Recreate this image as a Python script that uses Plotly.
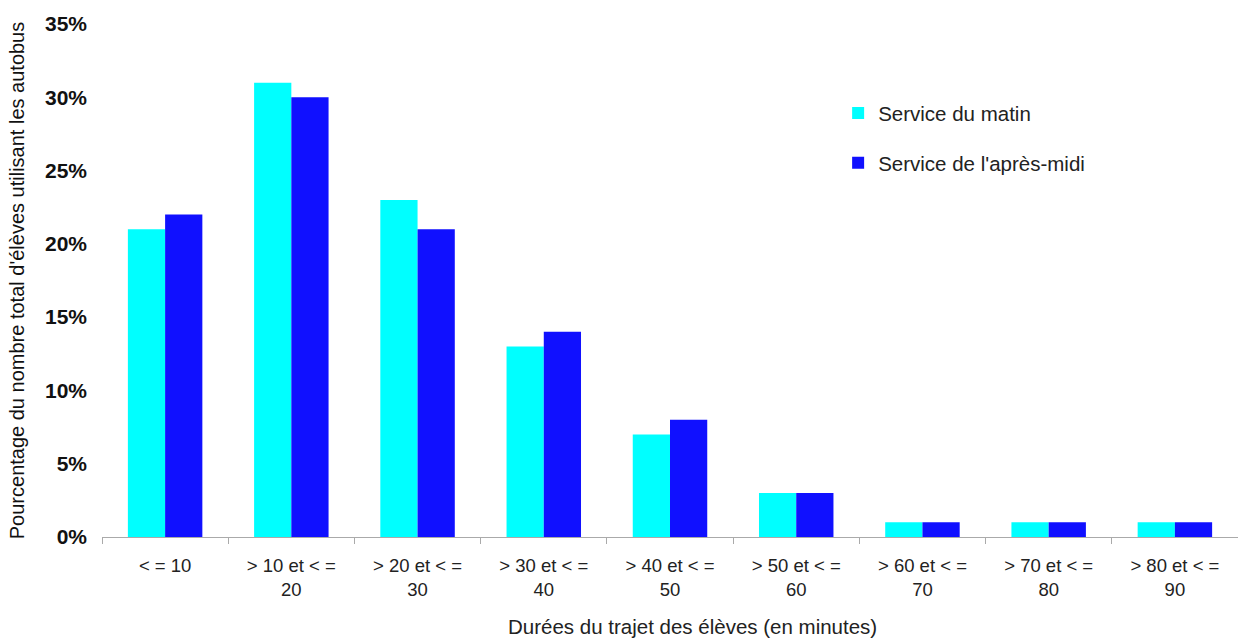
import plotly.graph_objects as go

categories = ["< = 10", "> 10 et < =<br>20", "> 20 et < =<br>30", "> 30 et < =<br>40",
              "> 40 et < =<br>50", "> 50 et < =<br>60", "> 60 et < =<br>70",
              "> 70 et < =<br>80", "> 80 et < =<br>90"]
matin = [21, 31, 23, 13, 7, 3, 1, 1, 1]
apres_midi = [22, 30, 21, 14, 8, 3, 1, 1, 1]
y_ticks = [0, 5, 10, 15, 20, 25, 30, 35]
y_tick_labels = [f"{v}%" for v in y_ticks]
x_title = "Durées du trajet des élèves (en minutes)"

fig = go.Figure()
fig.add_trace(go.Bar(x=categories, y=matin, name="Service du matin",
                     marker=dict(color="#00FFFF", line=dict(width=0)),
                     legendgroup="a"))
fig.add_trace(go.Bar(x=categories, y=apres_midi, name="Service de l'après-midi",
                     marker=dict(color="#1010FF", line=dict(width=0)),
                     legendgroup="b"))

fig.update_layout(
    width=1238, height=641,
    margin=dict(l=102, r=0, t=24, b=104),
    plot_bgcolor="white", paper_bgcolor="white",
    barmode="group", bargap=0.41, bargroupgap=0,
    font=dict(family="Liberation Sans, Arial", color="#222"),
    legend=dict(x=0.648, y=0.865, xanchor="left", yanchor="top",
                font=dict(size=20.5, color="#222"), tracegroupgap=20,
                bgcolor="rgba(0,0,0,0)"),
    xaxis=dict(
        showline=True, linecolor="#AAAAAA", linewidth=1,
        ticks="outside", tickson="boundaries", ticklen=6, tickcolor="#AAAAAA",
        tickfont=dict(size=18.5, color="#222"),
        ticklabelstandoff=12,
        showgrid=False,
    ),
    yaxis=dict(
        range=[0, 35], tickvals=y_ticks, ticktext=y_tick_labels,
        showgrid=False, zeroline=False, showline=False,
        tickfont=dict(size=21, color="#111", weight="bold"),
        ticklabelstandoff=14,
        title=dict(text="Pourcentage du nombre total d'élèves utilisant les autobus",
                   font=dict(size=20, color="#111"), standoff=14),
    ),
    annotations=[dict(text=x_title, xref="paper", yref="paper",
                      x=0.52, y=0, yshift=-89, xanchor="center", yanchor="middle",
                      showarrow=False, font=dict(size=20.5, color="#222"))],
)

fig.write_html("out.html")
